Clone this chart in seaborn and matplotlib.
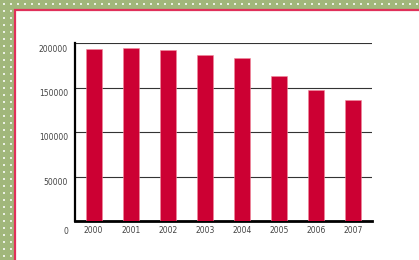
import numpy as np
import pandas as pd
import matplotlib
matplotlib.use("Agg")
import matplotlib.pyplot as plt
import matplotlib.transforms as mtransforms
import seaborn as sns

# Data
years = ["2000", "2001", "2002", "2003", "2004", "2005", "2006", "2007"]
values = [193500, 194500, 192300, 187000, 183600, 162500, 147200, 136000]
y_ticks = [0, 50000, 100000, 150000, 200000]

BAR_RED = "#cc0033"
BORDER_RED = "#e0305a"
GREEN = "#a1b77b"

sns.set_style("white")
plt.rcParams['font.family'] = ['DejaVu Sans']

W, H = 419, 260
fig = plt.figure(figsize=(W / 100, H / 100), dpi=100)
fig.patch.set_facecolor(GREEN)

# Background decoration: dotted green frame + white panel with red edge
bg = fig.add_axes([0, 0, 1, 1], zorder=0)
bg.set_xlim(0, W)
bg.set_ylim(H, 0)
bg.axis("off")
dx, dy = np.meshgrid(np.arange(4, W, 7), np.arange(4, H, 7))
mask = (dx < 14) | (dy < 9)
bg.scatter(dx[mask], dy[mask], s=3, color="white", alpha=0.8,
           linewidths=0, marker="s")
bg.add_patch(plt.Rectangle((14, 9), W - 14, H - 9, facecolor="white",
                           edgecolor="none"))
bg.plot([14.5, 14.5, W], [H, 9.5, 9.5], color=BORDER_RED, lw=1.6,
        solid_joinstyle="miter")

# Main chart
ax = fig.add_axes([75 / W, 1 - 221 / H, 297 / W, 178 / H], zorder=1)
ax.patch.set_alpha(0)
df = pd.DataFrame({"year": years, "value": values})
sns.barplot(data=df, x="year", y="value", color=BAR_RED, saturation=1,
            width=0.43, edgecolor="#f08a9c", linewidth=0.4, ax=ax, zorder=3)

ax.set_xlim(-0.5, len(years) - 0.5)
ax.set_ylim(0, 200000)
ax.set_xlabel("")
ax.set_ylabel("")
ax.set_yticks(y_ticks)
ax.set_yticklabels([str(t) for t in y_ticks])

for t in y_ticks[1:]:
    ax.axhline(t, color="#333333", lw=0.8, zorder=1)

for side in ["top", "right"]:
    ax.spines[side].set_visible(False)
ax.spines["left"].set_linewidth(1.6)
ax.spines["bottom"].set_linewidth(2.0)
ax.spines["left"].set_color("black")
ax.spines["bottom"].set_color("black")

ax.tick_params(axis="both", length=0, labelsize=5.5, labelcolor="#444444")
ax.tick_params(axis="y", pad=5)
ax.tick_params(axis="x", pad=3.5)

# y labels sit a little below their gridlines, the 0 further down
for lab, t in zip(ax.get_yticklabels(), y_ticks):
    shift = -10 if t == 0 else -5
    off = mtransforms.ScaledTranslation(0, shift / 100, fig.dpi_scale_trans)
    lab.set_transform(lab.get_transform() + off)

fig.savefig("out.png", dpi=100, facecolor=fig.get_facecolor())
